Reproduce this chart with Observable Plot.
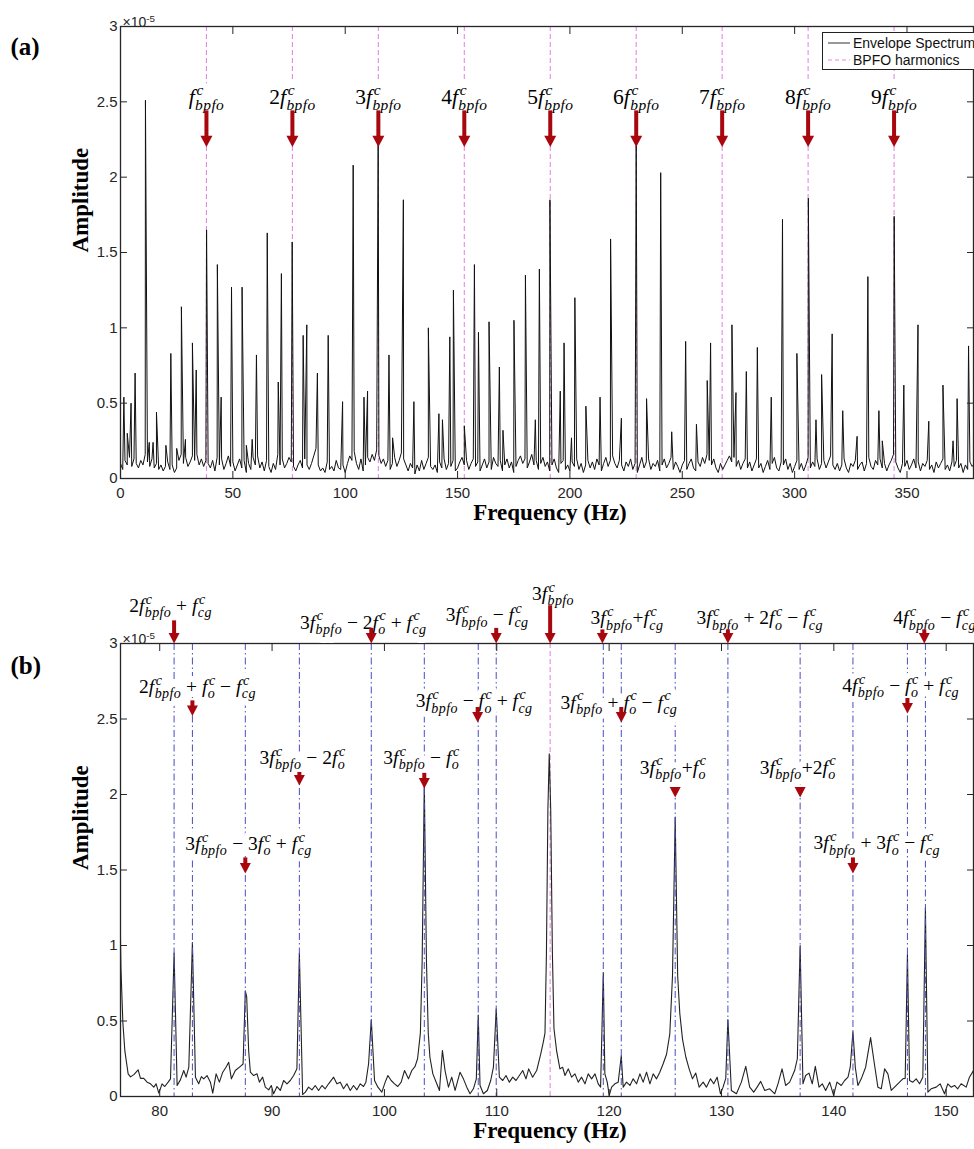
<!DOCTYPE html>
<html>
<head>
<meta charset="utf-8">
<script src="https://cdn.jsdelivr.net/npm/d3@7"></script>
<script src="https://cdn.jsdelivr.net/npm/@observablehq/plot@0.6"></script>
<style>
html, body { margin: 0; padding: 0; background: #fff; }
#fig { position: relative; width: 974px; height: 1149px; overflow: hidden; background: #fff; }
#fig svg { display: block; overflow: visible; }
#legend { position: absolute; left: 822px; top: 32px; width: 170px; height: 36px; border: 1px solid #222;
  background: #fff; font-family: "Liberation Sans", Arial, sans-serif; font-size: 14px; color: #111; }
#legend .row { position: absolute; left: 3px; height: 16px; display: flex; align-items: center; white-space: nowrap; }
#legend .row svg { margin-right: 3px; }
</style>
</head>
<body>
<div id="fig">
  <div id="pa"></div>
  <div id="pb"></div>
  <div id="legend">
    <div class="row" style="top:2px"><svg width="24" height="14"><line x1="2" y1="7" x2="24" y2="7" stroke="#333" stroke-width="1"/></svg><span>Envelope Spectrum</span></div>
    <div class="row" style="top:19px"><svg width="24" height="14"><line x1="2" y1="7" x2="24" y2="7" stroke="#e38be3" stroke-width="1.2" stroke-dasharray="4,3"/></svg><span>BPFO harmonics</span></div>
  </div>
</div>
<script>
// ---------------- DATA ----------------
// BPFO harmonic frequencies (Hz)
const bpfoHarmonics = [0, 38.25, 76.5, 114.75, 153, 191.25, 229.5, 267.75, 306, 344.25];
const harmonicLabels = ["F{bpfo}", "2F{bpfo}", "3F{bpfo}", "4F{bpfo}", "5F{bpfo}", "6F{bpfo}", "7F{bpfo}", "8F{bpfo}", "9F{bpfo}"];
const harmLabelAmp = 2.53, harmArrowTop = 2.44, harmArrowTip = 2.20;

// spectral peaks [frequency (Hz), amplitude (x1e-5)]
const peaks = [
  [1.5,0.54],[3.0,0.30],[4.7,0.50],[6.5,0.70],[11.1,2.51],[12.8,0.24],[14.5,0.24],[16.0,0.44],[20.2,0.22],[22.4,0.83],
  [25.0,0.20],[27.1,1.14],[28.9,0.26],[32.0,0.90],[33.7,0.72],[38.3,1.65],[43.1,1.42],[44.8,0.54],[49.4,1.27],[54.1,1.27],
  [56.0,0.22],[58.6,0.26],[60.5,0.82],[65.3,1.63],[70.2,0.64],[71.6,1.36],[76.4,1.57],[81.28,0.95],[82.91,1.02],[87.62,0.70],
  [92.43,0.95],[98.83,0.51],[103.55,2.08],[108.35,0.54],[109.95,0.58],[114.67,2.27],[119.48,0.82],[121.08,0.27],[125.88,1.85],[130.57,0.51],
  [137.0,1.00],[141.7,0.43],[143.27,0.39],[146.55,0.94],[148.15,1.25],[153.0,0.35],[157.5,1.42],[159.3,0.97],[164.0,1.04],[168.6,0.74],
  [170.2,0.32],[175.1,1.05],[180.2,1.35],[184.6,0.39],[186.4,1.39],[191.1,1.85],[195.7,0.58],[197.4,0.90],[200.7,0.27],[202.2,1.20],
  [207.1,0.48],[213.4,0.54],[218.1,1.59],[222.9,0.40],[229.5,2.21],[234.1,0.53],[240.4,2.03],[245.3,0.31],[251.5,0.91],[256.3,0.36],
  [261.1,0.65],[262.6,0.90],[272.1,1.02],[273.9,0.57],[278.5,0.71],[283.4,0.87],[289.6,0.54],[294.6,1.72],[301.0,0.83],[306.1,1.86],
  [309.5,0.39],[312.0,0.69],[316.7,0.96],[321.4,0.45],[327.8,0.28],[332.6,1.34],[337.5,0.45],[339.0,0.25],[344.3,1.74],[348.6,0.62],
  [354.9,1.02],[359.7,0.38],[366.0,0.62],[370.5,0.25],[372.3,0.53],[377.4,0.88]
];

// noise floor for panel (a): one value per Hz starting at 0 Hz
const noiseAStep = 1;
const noiseA = [
  0.10,0.06,0.12,0.09,0.14,0.08,0.13,0.10,0.07,0.12,0.09,0.16,0.11,0.08,0.13,0.07,0.10,0.06,0.09,0.05,
  0.08,0.11,0.06,0.09,0.04,0.07,0.12,0.16,0.10,0.14,0.08,0.11,0.15,0.12,0.16,0.09,0.13,0.08,0.12,0.10,
  0.07,0.12,0.05,0.14,0.09,0.13,0.06,0.10,0.15,0.08,0.11,0.05,0.09,0.13,0.07,0.12,0.04,0.10,0.06,0.14,
  0.09,0.15,0.07,0.11,0.05,0.12,0.08,0.04,0.10,0.06,0.16,0.09,0.13,0.07,0.10,0.14,0.11,0.08,0.05,0.09,
  0.12,0.07,0.13,0.09,0.06,0.10,0.15,0.20,0.09,0.05,0.07,0.04,0.11,0.06,0.08,0.05,0.12,0.07,0.06,0.09,
  0.04,0.10,0.15,0.12,0.18,0.10,0.06,0.13,0.05,0.09,0.14,0.11,0.16,0.12,0.19,0.15,0.10,0.13,0.08,0.12,
  0.06,0.10,0.14,0.08,0.12,0.17,0.13,0.09,0.05,0.10,0.07,0.03,0.09,0.05,0.12,0.06,0.10,0.14,0.08,0.06,
  0.09,0.04,0.11,0.07,0.13,0.06,0.10,0.08,0.12,0.05,0.07,0.11,0.14,0.09,0.12,0.06,0.10,0.13,0.08,0.11,
  0.05,0.09,0.13,0.07,0.11,0.06,0.14,0.10,0.08,0.12,0.05,0.09,0.13,0.07,0.11,0.04,0.08,0.12,0.15,0.10,
  0.13,0.07,0.11,0.16,0.09,0.12,0.06,0.10,0.14,0.08,0.11,0.05,0.09,0.13,0.07,0.04,0.10,0.12,0.06,0.09,
  0.05,0.11,0.08,0.13,0.06,0.10,0.04,0.09,0.12,0.07,0.11,0.06,0.13,0.09,0.05,0.10,0.14,0.08,0.12,0.15,
  0.10,0.07,0.12,0.09,0.05,0.11,0.08,0.13,0.06,0.10,0.04,0.09,0.14,0.07,0.11,0.13,0.06,0.10,0.08,0.12,
  0.05,0.09,0.13,0.07,0.10,0.14,0.06,0.11,0.08,0.04,0.09,0.12,0.06,0.10,0.13,0.07,0.05,0.11,0.08,0.14,
  0.10,0.16,0.12,0.09,0.13,0.07,0.04,0.10,0.06,0.09,0.12,0.15,0.11,0.14,0.08,0.12,0.06,0.10,0.13,0.07,
  0.11,0.05,0.09,0.13,0.07,0.10,0.04,0.08,0.12,0.06,0.10,0.14,0.07,0.05,0.11,0.09,0.13,0.06,0.10,0.04,
  0.08,0.12,0.06,0.10,0.05,0.09,0.14,0.07,0.11,0.08,0.13,0.06,0.10,0.12,0.07,0.11,0.15,0.09,0.06,0.10,
  0.05,0.09,0.13,0.07,0.04,0.10,0.08,0.12,0.06,0.09,0.11,0.05,0.10,0.14,0.08,0.06,0.12,0.09,0.13,0.07,
  0.10,0.05,0.09,0.12,0.16,0.11,0.07,0.04,0.10,0.08,0.12,0.06,0.09,0.13,0.07,0.11,0.05,0.10,0.08,0.12,
  0.06,0.09,0.04,0.11,0.07,0.10,0.13,0.06,0.09,0.05,0.11,0.08,0.12,0.07,0.10,0.04,0.09,0.06,0.11,0.08,
  0.10
];

// detailed noise floor and peak skirts for panel (b): [frequency, amplitude]
const noiseB = [
  [76.55,0.85],[76.72,0.49],[76.90,0.30],[77.19,0.15],[77.40,0.13],[77.70,0.145],[78.08,0.177],[78.29,0.12],[78.58,0.12],[78.88,0.095],
  [79.18,0.084],[79.47,0.062],[79.68,0.084],[79.92,0.022],[80.21,0.084],[80.45,0.066],[80.75,0.095],[80.96,0.117],
  [81.55,0.073],[81.84,0.11],[82.14,0.172],[82.35,0.128],[82.59,0.194],
  [83.18,0.128],[83.47,0.084],[83.71,0.132],[83.92,0.117],[84.21,0.139],[84.51,0.095],[84.72,0.022],[85.02,0.150],[85.31,0.095],
  [85.61,0.161],[85.90,0.194],[86.14,0.227],[86.38,0.117],[86.73,0.172],[87.18,0.200],[87.42,0.215],
  [87.74,0.66],[87.92,0.30],[88.07,0.161],[88.36,0.139],[88.66,0.150],[88.87,0.095],[89.16,0.128],[89.40,0.062],[89.70,0.044],
  [89.93,0.073],[90.14,0.018],[90.44,0.066],[90.73,0.040],[91.03,0.106],[91.33,0.084],[91.62,0.106],[91.92,0.139],[92.21,0.183],
  [92.72,0.013],[92.96,0.029],[93.25,0.062],[93.55,0.044],[93.84,0.073],[94.14,0.040],[94.44,0.073],[94.73,0.051],[95.03,0.084],
  [95.48,0.128],[95.77,0.084],[96.07,0.095],[96.36,0.051],[96.66,0.084],[96.96,0.040],[97.25,0.073],[97.55,0.044],[97.85,0.084],
  [98.14,0.066],[98.35,0.095],[98.59,0.217],
  [99.12,0.106],[99.42,0.062],[99.77,0.029],[100.07,0.095],[100.31,0.139],[100.60,0.106],[100.90,0.084],[101.19,0.066],[101.49,0.095],
  [101.79,0.172],[102.14,0.117],[102.44,0.172],[102.73,0.20],[102.95,0.25],[103.20,0.42],[103.36,0.90],
  [103.74,0.90],[103.90,0.42],[104.05,0.26],[104.31,0.15],[104.66,0.084],[104.90,0.04],[105.16,0.305],[105.40,0.17],[105.70,0.062],
  [105.99,0.128],[106.29,0.04],[106.73,0.161],[107.03,0.117],[107.33,0.062],[107.62,0.018],[107.92,0.051],[108.18,0.117],
  [108.51,0.073],[108.81,0.018],[109.16,0.04],[109.46,0.106],[109.70,0.194],
  [110.23,0.128],[110.53,0.106],[110.82,0.139],[111.12,0.095],[111.42,0.128],[111.71,0.106],[112.01,0.139],[112.31,0.172],[112.60,0.117],
  [112.84,0.183],[113.19,0.128],[113.55,0.172],[113.91,0.28],[114.14,0.36],[114.29,0.42],[114.42,0.95],[114.55,1.9],
  [114.80,1.9],[114.95,0.95],[115.09,0.45],[115.33,0.30],[115.62,0.183],[115.86,0.194],[116.07,0.139],[116.37,0.183],[116.66,0.128],
  [116.96,0.15],[117.25,0.095],[117.55,0.128],[117.85,0.084],[118.14,0.15],[118.44,0.117],[118.74,0.15],[119.03,0.084],[119.24,0.062],
  [119.62,0.15],[119.83,0.095],[120.01,0.007],[120.22,0.062],[120.51,0.084],[120.81,0.095],
  [121.25,0.062],[121.55,0.095],[121.85,0.073],[122.14,0.117],[122.44,0.084],[122.74,0.15],[123.03,0.095],[123.33,0.161],[123.63,0.084],
  [123.92,0.15],[124.22,0.117],[124.51,0.161],[124.81,0.217],[125.11,0.28],[125.40,0.415],[125.64,0.80],
  [126.10,0.80],[126.29,0.55],[126.53,0.38],[126.83,0.26],[127.12,0.183],[127.42,0.117],[127.71,0.155],[128.01,0.062],[128.37,0.095],
  [128.66,0.062],[129.02,0.117],[129.31,0.084],[129.61,0.128],[129.91,0.018],[130.14,0.062],[130.38,0.12],
  [130.88,0.04],[131.33,0.018],[131.77,0.095],[132.16,0.20],[132.51,0.062],[132.87,0.029],[133.17,0.062],[133.49,0.10],[133.85,0.04],
  [134.29,0.051],[134.74,0.018],[135.03,0.084],[135.39,0.183],[135.71,0.073],[136.07,0.095],[136.51,0.172],[136.75,0.25],
  [137.25,0.084],[137.49,0.139],[137.79,0.155],[138.08,0.084],[138.35,0.20],[138.68,0.062],[138.97,0.084],[139.27,0.04],[139.63,0.095],
  [139.98,0.007],[140.28,0.095],[140.66,0.073],[140.96,0.106],[141.26,0.128],[141.46,0.194],
  [141.91,0.194],[142.14,0.073],[142.44,0.117],[142.83,0.194],
  [143.63,0.205],[143.92,0.062],[144.22,0.051],[144.52,0.183],[144.81,0.15],[145.11,0.04],[145.40,0.062],[145.85,0.095],[146.14,0.117],[146.35,0.12],
  [146.74,0.106],[147.03,0.095],[147.33,0.117],[147.63,0.084],[147.92,0.128],
  [148.37,0.029],[148.66,0.051],[149.11,0.062],[149.46,0.084],[149.85,0.018],[150.14,0.084],[150.44,0.062],[150.74,0.073],[151.03,0.051],
  [151.33,0.084],[151.78,0.062],[152.07,0.128],[152.43,0.172],[152.70,0.30]
];

// sideband reference lines in panel (b)
const sidebandFreq = [81.28, 82.91, 87.62, 92.43, 98.83, 103.55, 108.35, 109.95, 119.48, 121.08, 125.88, 130.57, 137.0, 141.7, 146.55, 148.15];

// panel (b) annotations
const annoText = [
  "2F{bpfo} + F{cg}", "3F{bpfo} − 2F{o} + F{cg}", "3F{bpfo} − F{cg}", "3F{bpfo}", "3F{bpfo}+F{cg}",
  "3F{bpfo} + 2F{o} − F{cg}", "4F{bpfo} − F{cg}", "2F{bpfo} + F{o} − F{cg}", "3F{bpfo} − F{o} + F{cg}",
  "3F{bpfo} + F{o} − F{cg}", "4F{bpfo} − F{o} + F{cg}", "3F{bpfo} − 2F{o}", "3F{bpfo} − F{o}",
  "3F{bpfo}+F{o}", "3F{bpfo}+2F{o}", "3F{bpfo} − 3F{o} + F{cg}", "3F{bpfo} + 3F{o} − F{cg}"
];
const annoTextFreq = [80.96, 98.11, 109.14, 115.0, 121.58, 133.4, 148.96, 83.36, 107.98, 120.87, 145.94, 92.69, 103.27, 125.67, 136.78, 87.89, 143.81];
const annoTextAmp  = [3.25, 3.14, 3.19, 3.33, 3.17, 3.17, 3.17, 2.715, 2.62, 2.61, 2.72, 2.245, 2.245, 2.18, 2.18, 1.675, 1.68];
const annoArrowFreq = [81.28, 98.83, 109.95, 114.75, 119.4, 130.57, 148.05, 82.91, 108.3, 121.08, 146.55, 92.43, 103.55, 125.88, 137.0, 87.62, 141.7];
const annoArrowTop = [3.15, 3.10, 3.10, 3.25, 3.09, 3.09, 3.09, 2.62, 2.576, 2.576, 2.636, 2.146, 2.14, 2.046, 2.046, 1.58, 1.58];
const annoArrowTip = [3.0, 3.0, 3.0, 3.0, 3.0, 3.0, 3.0, 2.52, 2.477, 2.477, 2.536, 2.06, 2.04, 1.98, 1.98, 1.477, 1.477];

// ticks
const xTicksA = [0, 50, 100, 150, 200, 250, 300, 350];
const xTicksB = [80, 90, 100, 110, 120, 130, 140, 150];
const yTicks = [0, 0.5, 1, 1.5, 2, 2.5, 3];
const domainA = [0, 379.6];
const domainB = [76.51, 152.43];

// ---------------- BUILD ----------------
const RED = "#a8070d";
const MAGENTA = "#e38be3";
const BLUE = "#4b4bc3";
const INK = "#262626";

const peakObjs = peaks.map(([f, a]) => ({f, a}));
const specA = noiseA.map((a, i) => ({f: i * noiseAStep, a})).concat(peakObjs).sort((p, q) => p.f - q.f);
const specB = noiseB.map(([f, a]) => ({f, a}))
  .concat(peakObjs.filter(p => p.f > 76 && p.f < 153.5)).sort((p, q) => p.f - q.f);

const harmAnno = harmonicLabels.map((t, i) => ({t, f: bpfoHarmonics[i + 1]}));
const anno = annoText.map((t, i) => ({
  t, tf: annoTextFreq[i], ta: annoTextAmp[i], af: annoArrowFreq[i], top: annoArrowTop[i], tip: annoArrowTip[i]
}));

const headSymbol = {
  draw(ctx, size) {
    const r = Math.sqrt(size / Math.PI);
    ctx.moveTo(-r, -1.9 * r);
    ctx.lineTo(r, -1.9 * r);
    ctx.lineTo(0, 0);
    ctx.closePath();
  }
};
function arrowMarks(data, {x, top, tip, r}) {
  return [
    Plot.ruleX(data, {x, y1: top, y2: tip, stroke: RED, strokeWidth: 4, insetBottom: 1.9 * r - 2}),
    Plot.dot(data, {x, y: tip, symbol: headSymbol, r, fill: RED, stroke: "none"})
  ];
}
const tf = d => `${d}`;
function axes(xTicks) {
  return [
    Plot.axisX(xTicks, {anchor: "bottom", tickSize: 0, tickPadding: 9, tickFormat: tf, label: null, fill: INK}),
    Plot.axisX(xTicks, {anchor: "bottom", tickSize: 7, dy: -7, label: null, fill: "none", stroke: INK}),
    Plot.axisX(xTicks, {anchor: "top", tickSize: 7, dy: 7, label: null, fill: "none", stroke: INK}),
    Plot.axisY(yTicks, {anchor: "left", tickSize: 0, tickPadding: 3, tickFormat: tf, label: null, fill: INK}),
    Plot.axisY(yTicks, {anchor: "left", tickSize: 7, dx: 7, label: null, fill: "none", stroke: INK}),
    Plot.axisY(yTicks, {anchor: "right", tickSize: 7, dx: -7, label: null, fill: "none", stroke: INK})
  ];
}
function frameTexts(panel, panelDy) {
  return [
    Plot.text([panel], {text: d => d, frameAnchor: "top-left", dx: -110, dy: panelDy, textAnchor: "start",
      fontFamily: "Liberation Serif", fontWeight: "bold", fontSize: 25, fill: "#000"}),
    Plot.text(["×10^{-5}"], {text: d => d, frameAnchor: "top-left", dx: 2, dy: -9, textAnchor: "start",
      fontFamily: "Liberation Sans", fontSize: 14, fill: INK}),
    Plot.text(["Amplitude"], {text: d => d, frameAnchor: "left", dx: -40, rotate: -90,
      fontFamily: "Liberation Serif", fontWeight: "bold", fontSize: 23, fill: "#000"}),
    Plot.text(["Frequency (Hz)"], {text: d => d, frameAnchor: "bottom", dy: 41, dx: 3,
      fontFamily: "Liberation Serif", fontWeight: "bold", fontSize: 23, fill: "#000"})
  ];
}
const style = {fontFamily: "Liberation Sans, Arial, sans-serif", fontSize: "15px", color: INK, background: "transparent", overflow: "visible"};

const plotA = Plot.plot({
  width: 974, height: 560, marginLeft: 120, marginRight: 1, marginTop: 26, marginBottom: 82,
  x: {domain: domainA}, y: {domain: [0, 3]}, style,
  marks: [
    Plot.ruleX(bpfoHarmonics, {x: d => d, stroke: MAGENTA, strokeWidth: 1.1, strokeDasharray: "5,3"}),
    Plot.line(specA, {x: "f", y: "a", stroke: "#111", strokeWidth: 1, clip: true}),
    Plot.frame({stroke: INK, strokeWidth: 1.3}),
    ...axes(xTicksA),
    Plot.text(harmAnno, {x: "f", y: harmLabelAmp, text: "t", fontFamily: "Liberation Serif", fontSize: 21.5,
      fill: "white", stroke: "white", strokeWidth: 12, strokeLinejoin: "round"}),
    Plot.text(harmAnno, {x: "f", y: harmLabelAmp, text: "t", fontFamily: "Liberation Serif", fontSize: 21.5, fill: "#000"}),
    ...arrowMarks(harmAnno, {x: "f", top: harmArrowTop, tip: harmArrowTip, r: 6}),
    ...frameTexts("(a)", 11)
  ]
});

const plotB = Plot.plot({
  width: 974, height: 589, marginLeft: 120, marginRight: 1, marginTop: 83, marginBottom: 53,
  x: {domain: domainB}, y: {domain: [0, 3]}, style,
  marks: [
    Plot.ruleX(bpfoHarmonics.filter(f => f > domainB[0] && f < domainB[1]), {x: d => d, stroke: MAGENTA, strokeWidth: 1.1, strokeDasharray: "5,3"}),
    Plot.line(specB, {x: "f", y: "a", stroke: "#222", strokeWidth: 1.1, clip: true}),
    Plot.ruleX(sidebandFreq, {x: d => d, stroke: BLUE, strokeWidth: 1, strokeDasharray: "7,3,1.5,3"}),
    Plot.frame({stroke: INK, strokeWidth: 1.3}),
    ...axes(xTicksB),
    Plot.text(anno, {x: "tf", y: "ta", text: "t", fontFamily: "Liberation Serif", fontSize: 19.5,
      fill: "white", stroke: "white", strokeWidth: 12, strokeLinejoin: "round"}),
    Plot.text(anno, {x: "tf", y: "ta", text: "t", fontFamily: "Liberation Serif", fontSize: 19.5, fill: "#000"}),
    ...arrowMarks(anno, {x: "af", top: "top", tip: "tip", r: 5.5}),
    ...frameTexts("(b)", 13)
  ]
});

document.getElementById("pa").appendChild(plotA);
document.getElementById("pb").appendChild(plotB);

// ---------------- rich text (sub/superscripts) ----------------
function richify(root) {
  const NS = "http://www.w3.org/2000/svg";
  root.querySelectorAll("text").forEach(t => {
    const s = t.textContent;
    if (!/F\{|\^\{/.test(s)) return;
    const fs = parseFloat(getComputedStyle(t).fontSize) || 16;
    t.textContent = "";
    let shift = 0;
    const add = (str, o) => {
      const ts = document.createElementNS(NS, "tspan");
      ts.textContent = str;
      for (const [k, v] of Object.entries(o)) if (v !== 0) ts.setAttribute(k, v);
      t.appendChild(ts);
    };
    const re = /F\{(\w+)\}|\^\{([^}]*)\}|([^F^]+|[F^])/g;
    let m;
    while ((m = re.exec(s))) {
      if (m[1] !== undefined) {
        const ss = fs * 0.72;
        add("f", {"font-style": "italic", dy: -shift});
        add("c", {"font-style": "italic", "font-size": ss, dx: 0.08 * fs, dy: -0.42 * fs});
        add(m[1], {"font-style": "italic", "font-size": ss, "letter-spacing": 0.4, dx: -0.444 * ss - 0.06 * fs, dy: 0.70 * fs});
        shift = 0.28 * fs;
      } else if (m[2] !== undefined) {
        add(m[2], {"font-size": fs * 0.7, dy: -0.42 * fs - shift});
        shift = -0.42 * fs;
      } else {
        add(m[3], {dy: -shift});
        shift = 0;
      }
    }
  });
}
richify(document.getElementById("fig"));
</script>
</body>
</html>
